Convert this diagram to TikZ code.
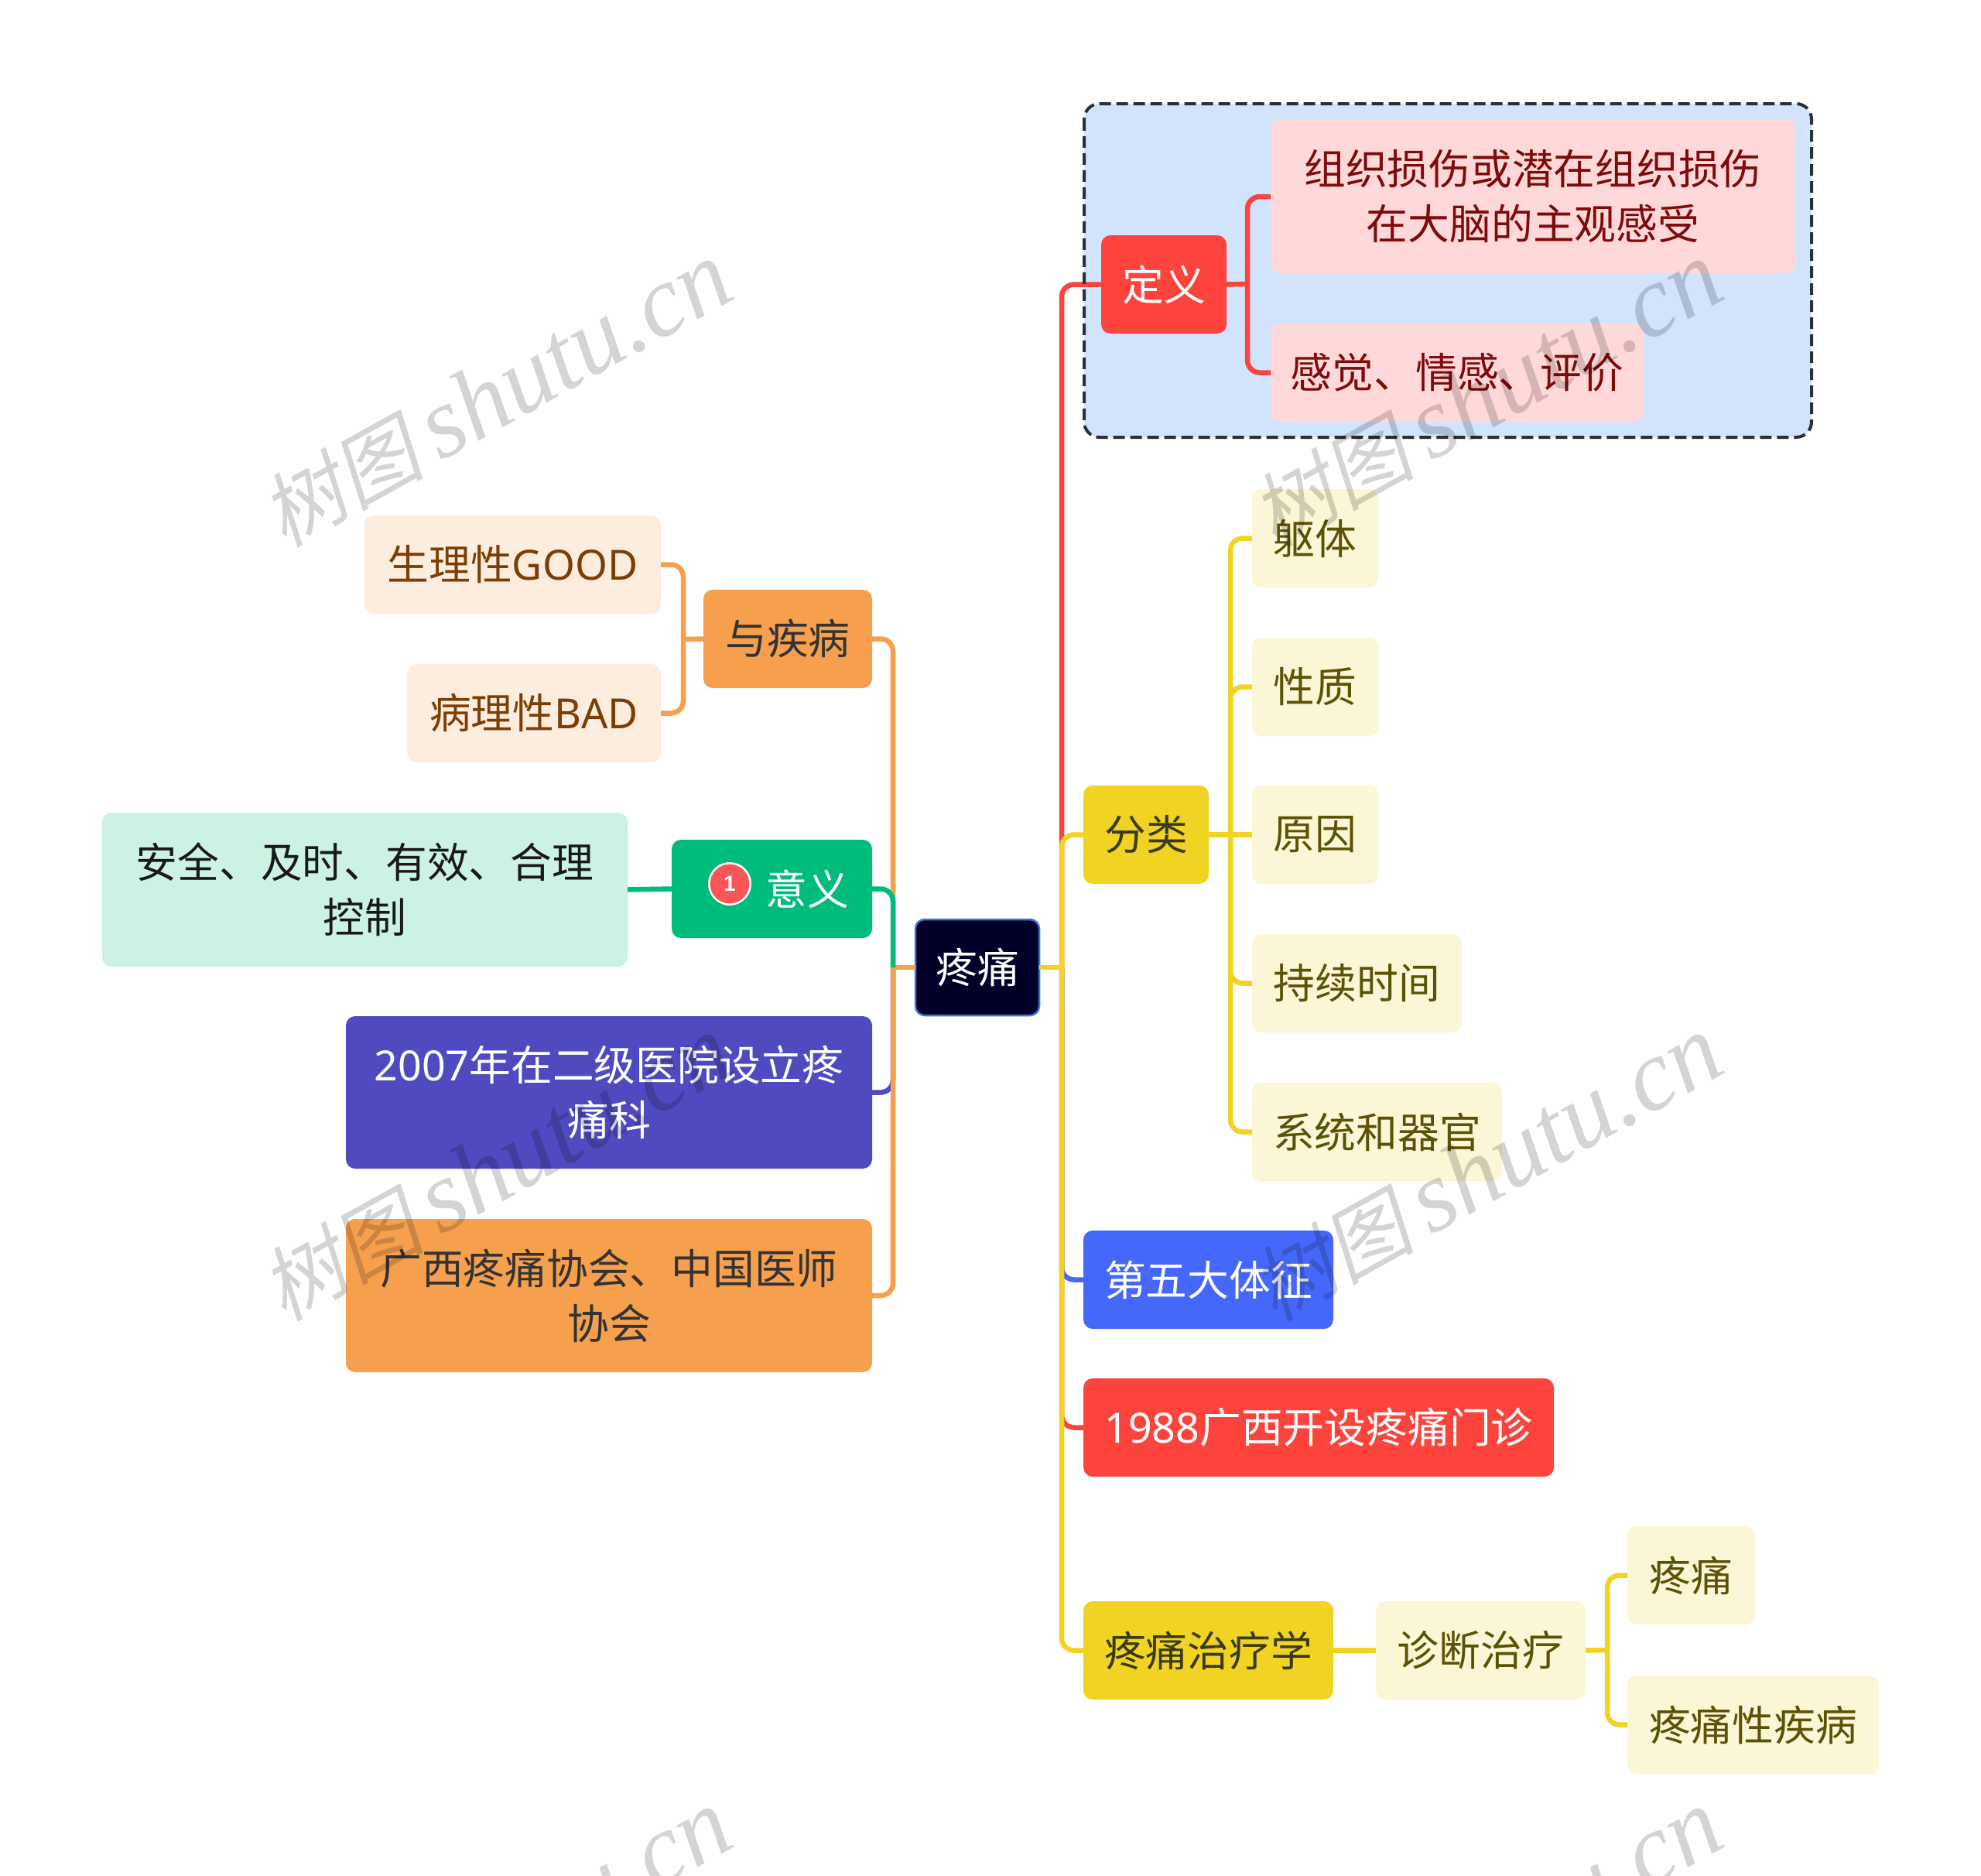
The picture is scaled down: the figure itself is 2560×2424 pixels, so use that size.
\documentclass[tikz,border=0pt]{standalone}
\usepackage{fontspec}
\setmainfont{Noto Sans CJK SC}
\newfontfamily\lat{Noto Sans}
\newfontfamily\badgefont{Liberation Sans}
\newfontfamily\wmcjk[FakeSlant=0.2]{Noto Sans CJK SC}
\newfontfamily\wmlat{Liberation Serif}[ItalicFont=* Italic]
\definecolor{cred}{HTML}{FC443C}
\definecolor{cbadge}{HTML}{FA5558}
\definecolor{cpink}{HTML}{FFD9D9}
\definecolor{cpinkt}{HTML}{7E0A0A}
\definecolor{cgroup}{HTML}{D2E3FC}
\definecolor{cdash}{HTML}{2B2F36}
\definecolor{cyel}{HTML}{F0D323}
\definecolor{cyelt}{HTML}{3A3A14}
\definecolor{clyel}{HTML}{FBF6D5}
\definecolor{clyelt}{HTML}{5C5206}
\definecolor{corg}{HTML}{F6A04D}
\definecolor{clorg}{HTML}{FDEDDF}
\definecolor{clorgt}{HTML}{7C3E05}
\definecolor{cgrn}{HTML}{00BC7B}
\definecolor{clgrn}{HTML}{CBF2E2}
\definecolor{cpur}{HTML}{4F4AC0}
\definecolor{cblu}{HTML}{4668FA}
\definecolor{croot}{HTML}{000029}
\definecolor{crootb}{HTML}{3A75D8}
\newcommand{\bx}[7]{\node[#1,minimum width={(#5-#3)*0.02cm},minimum height={(#6-#4)*0.02cm}] (#2) at ({(#3+#5)/2},{(#4+#6)/2}) {#7};}
\newcommand{\wm}[3]{\node[wmark] (#1) at (#2,#3) {{\fontsize{60}{80}\selectfont\wmcjk 树图}\hspace{0.4cm}{\wmlat\itshape shutu.cn}};}
\tikzset{
  x=0.02cm,y=-0.02cm,
  tbox/.style={rectangle,rounded corners=0.24cm,inner sep=0pt,outer sep=0pt,align=center,
    font=\fontsize{30.6}{40.4}\selectfont},
  root/.style={tbox,fill=croot,draw=crootb,line width=0.05cm,text=white},
  redbox/.style={tbox,fill=cred,text=white},
  pinkbox/.style={tbox,fill=cpink,text=cpinkt},
  yelbox/.style={tbox,fill=cyel,text=cyelt},
  lyelbox/.style={tbox,fill=clyel,text=clyelt},
  orgbox/.style={tbox,fill=corg,text=black!80},
  lorgbox/.style={tbox,fill=clorg,text=clorgt},
  grnbox/.style={tbox,fill=cgrn,text=white},
  lgrnbox/.style={tbox,fill=clgrn,text=black!90},
  purbox/.style={tbox,fill=cpur,text=white},
  blubox/.style={tbox,fill=cblu,text=white},
  groupbox/.style={rectangle,fill=cgroup,inner sep=0pt,outer sep=0pt,rounded corners=0.4cm},
  groupline/.style={draw=cdash,line width=0.08cm,dash pattern=on 0.3cm off 0.14cm,rounded corners=0.4cm},
  conn/.style={line width=0.13cm,rounded corners=0.32cm},
  wmark/.style={rotate=29,text=black,text opacity=0.17,inner sep=0pt,font=\fontsize{74.5}{80}\selectfont},
  badge/.style={circle,fill=cbadge,draw=white,line width=0.05cm,minimum size=1.07cm,inner sep=0pt,text=white,
    font=\badgefont\bfseries\fontsize{16}{16}\selectfont},
}
\begin{document}
\begin{tikzpicture}
\useasboundingbox[fill=white] (0,0) rectangle (2560,2424);

% definition group background
\bx{groupbox}{grp}{1401}{134}{2341}{565}{}

% nodes
\bx{root}{root}{1183}{1188}{1343}{1312}{疼痛}
\bx{redbox}{dingyi}{1423}{304}{1585}{431}{定义}
\bx{pinkbox}{zuzhi}{1642}{155}{2320}{353}{组织损伤或潜在组织损伤\\在大脑的主观感受}
\bx{pinkbox}{ganjue}{1642}{418}{2124}{545}{感觉、情感、评价}
\bx{yelbox}{fenlei}{1400}{1015}{1562}{1142}{分类}
\bx{lyelbox}{quti}{1618}{632}{1781}{759}{躯体}
\bx{lyelbox}{xingzhi}{1618}{824}{1781}{951}{性质}
\bx{lyelbox}{yuanyin}{1618}{1015}{1781}{1142}{原因}
\bx{lyelbox}{chixu}{1618}{1207}{1889}{1334}{持续时间}
\bx{lyelbox}{xitong}{1618}{1399}{1941}{1526}{系统和器官}
\bx{blubox}{wuda}{1400}{1590}{1723}{1717}{第五大体征}
\bx{redbox}{menzhen}{1400}{1781}{2008}{1908}{{\lat 1988}广西开设疼痛门诊}
\bx{yelbox}{zhiliao}{1400}{2069}{1723}{2196}{疼痛治疗学}
\bx{lyelbox}{zhenduan}{1778}{2069}{2049}{2196}{诊断治疗}
\bx{lyelbox}{tengtong}{2103}{1972}{2268}{2099}{疼痛}
\bx{lyelbox}{jibing}{2103}{2165}{2428}{2292}{疼痛性疾病}
\bx{orgbox}{yu}{909}{762}{1127}{889}{与疾病}
\bx{lorgbox}{good}{471}{666}{854}{793}{生理性{\lat GOOD}}
\bx{lorgbox}{bad}{526}{858}{854}{985}{病理性{\lat BAD}}
\bx{grnbox}{yiyi}{868}{1085}{1127}{1212}{\hspace*{1.84cm}意义}
\bx{lgrnbox}{anquan}{132}{1050}{811}{1249}{安全、及时、有效、合理\\控制}
\bx{purbox}{nian}{447}{1313}{1127}{1510}{{\lat 2007}年在二级医院设立疼\\痛科}
\bx{orgbox}{guangxi}{447}{1575}{1127}{1773}{广西疼痛协会、中国医师\\协会}
\node[badge] (icon) at (943,1142) {1};

% junction coordinates
\coordinate (ytrunk) at (1372,1250);
\coordinate (otrunk) at (1154,1250);
\coordinate (jdef) at (1612,367);
\coordinate (jfen) at (1590,1079);
\coordinate (jzhen) at (2077,2132);
\coordinate (jyu) at (883,826);

% right connectors
\draw[conn,cred] (dingyi.west) -| (ytrunk);
\draw[conn,cblu] (wuda.west) -| (ytrunk);
\draw[conn,cred] (menzhen.west) -| (ytrunk);
\draw[conn,cyel] (fenlei.west) -| (ytrunk) |- (zhiliao.west);
\draw[conn,cyel] (root.east) -- (ytrunk);
\draw[conn,cred] (dingyi.east) -- (jdef);
\draw[conn,cred] (zuzhi.west) -| (jdef) |- (ganjue.west);
\draw[conn,cyel] (fenlei.east) -- (yuanyin.west);
\draw[conn,cyel] (quti.west) -| (jfen) |- (xitong.west);
\draw[conn,cyel] (xingzhi.west) -| (jfen);
\draw[conn,cyel] (chixu.west) -| (jfen);
\draw[conn,cyel] (zhiliao.east) -- (zhenduan.west);
\draw[conn,cyel] (zhenduan.east) -- (jzhen);
\draw[conn,cyel] (tengtong.west) -| (jzhen) |- (jibing.west);

% dashed outline of the group, above the connector that crosses it
\draw[groupline] (grp.north west) rectangle (grp.south east);

% left connectors
\draw[conn,cpur] (nian.east) -| (otrunk);
\draw[conn,corg] (yu.east) -| (otrunk) |- (guangxi.east);
\draw[conn,corg] (root.west) -- (otrunk);
\draw[conn,cgrn] (yiyi.east) -| (otrunk);
\draw[conn,cgrn] (anquan.east) -- (yiyi.west);
\draw[conn,corg] (yu.west) -- (jyu);
\draw[conn,corg] (good.east) -| (jyu) |- (bad.east);

% watermark
\wm{wa}{641}{510}
\wm{wb}{1921}{510}
\wm{wc}{641}{1510}
\wm{wd}{1921}{1510}
\wm{we}{641}{2510}
\wm{wf}{1921}{2510}
\end{tikzpicture}
\end{document}
